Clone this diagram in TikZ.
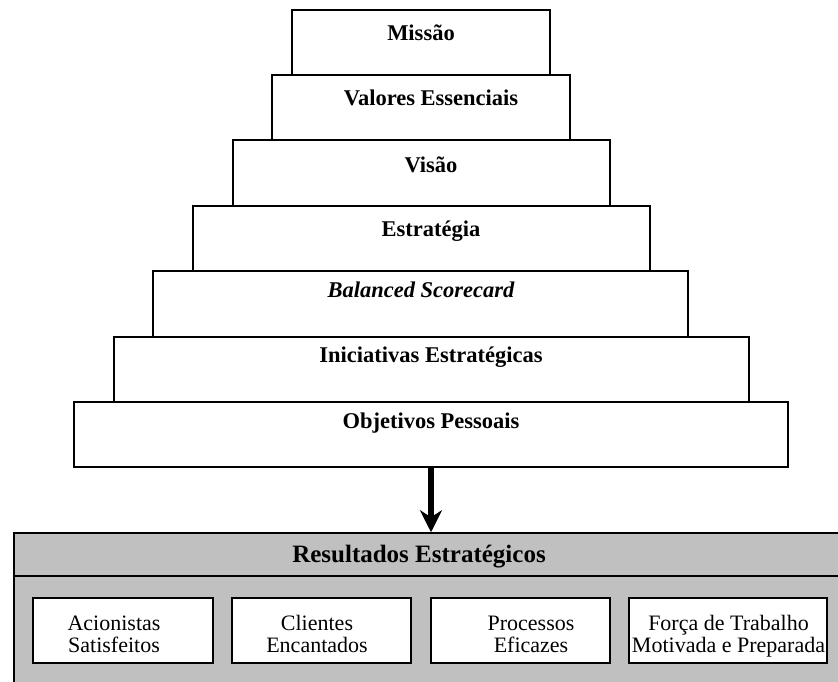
\documentclass[tikz,border=0pt]{standalone}
\usepackage{fontspec}
\setmainfont{Liberation Serif}
\usetikzlibrary{arrows.meta}
\definecolor{panelgrey}{RGB}{192,192,192}
\begin{document}
\begin{tikzpicture}[x=1pt,y=-1pt,
  tier/.style={draw, line width=1.5pt, fill=white, inner sep=0pt, rectangle},
  tierlabel/.style={anchor=base, inner sep=0pt, font=\fontsize{22.5}{23}\selectfont\bfseries},
  headlabel/.style={anchor=base, inner sep=0pt, font=\fontsize{25}{26}\selectfont\bfseries},
  panel/.style={draw, line width=1.5pt, fill=panelgrey, inner sep=0pt, rectangle},
  goalbox/.style={draw, line width=1.5pt, fill=white, inner sep=0pt, rectangle,
    minimum height=65pt},
  goallabel/.style={anchor=base, inner sep=0pt, align=center,
    font=\fontsize{22}{22.5}\selectfont},
  bigarrow/.style={line width=6pt, -{Stealth[length=22pt,width=22pt,inset=7pt]}}
]
\path[use as bounding box, clip] (0,0) rectangle (838,682);

% Lower panel with the strategic results
\node[panel, minimum width=846pt, minimum height=167pt] (res) at (437,616.5) {};
\coordinate (divL) at (14,576);
\draw[line width=1.5pt] (divL) -- (divL -| res.east);
\node[headlabel] (restitle) at (419,562) {Resultados Estratégicos};

\node[goalbox, minimum width=180pt] (g1) at (123,630.5) {};
\node[goalbox, minimum width=179pt] (g2) at (321.5,630.5) {};
\node[goalbox, minimum width=179pt] (g3) at (520.5,630.5) {};
\node[goalbox, minimum width=198pt] (g4) at (728,630.5) {};
% base anchor of a two-line label sits on its last line
\node[goallabel] (t1) at (114,652.5) {Acionistas\\Satisfeitos};
\node[goallabel] (t2) at (317,652.5) {Clientes\\Encantados};
\node[goallabel] (t3) at (531,652.5) {Processos\\Eficazes};
\begin{scope}
  \clip (629,598) rectangle (827,656);
  \node[goallabel] (t4) at (728.5,652.5) {Força de Trabalho\\Motivada e Preparada};
\end{scope}

% Stacked tiers
\node[tier, minimum width=258pt, minimum height=65pt] (b1) at (421,42.5) {};
\node[tier, minimum width=298pt, minimum height=65pt] (b2) at (421,107.5) {};
\node[tier, minimum width=377pt, minimum height=66pt] (b3) at (421.5,173) {};
\node[tier, minimum width=457pt, minimum height=65pt] (b4) at (421.5,238.5) {};
\node[tier, minimum width=535pt, minimum height=66pt] (b5) at (420.5,304) {};
\node[tier, minimum width=635pt, minimum height=65pt] (b6) at (431.5,369.5) {};
\node[tier, minimum width=714pt, minimum height=65pt] (b7) at (431,434.5) {};

\node[tierlabel] (l1) at (421,41) {Missão};
\node[tierlabel] (l2) at (431,106) {Valores Essenciais};
\node[tierlabel] (l3) at (431,172) {Visão};
\node[tierlabel] (l4) at (431,236) {Estratégia};
\node[tierlabel] (l5) at (421,297) {\itshape Balanced Scorecard};
\node[tierlabel] (l6) at (431,362) {Iniciativas Estratégicas};
\node[tierlabel] (l7) at (431,428) {Objetivos Pessoais};

% Flow from the tiers down to the results
\draw[bigarrow] (b7.south) -- (b7.south |- res.north);
\end{tikzpicture}
\end{document}
